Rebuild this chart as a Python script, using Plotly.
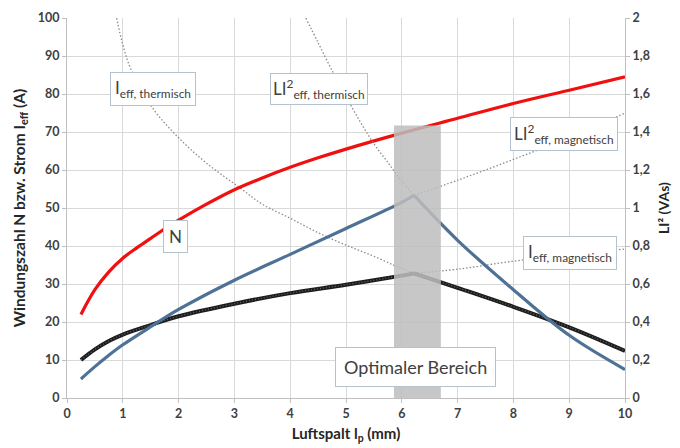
import plotly.graph_objects as go

# --- data ---
x_N = [0.25, 0.5, 0.75, 1.0, 1.25, 1.5, 1.75, 2.0, 2.5, 3.0, 3.5, 4.0, 4.5, 5.0, 6.0, 7.0, 8.0, 9.0, 10.0]
N_vals = [22.0, 28.5, 33.2, 36.8, 39.5, 42.0, 44.5, 46.8, 51.0, 54.8, 57.9, 60.7, 63.2, 65.5, 69.7, 73.6, 77.5, 81.0, 84.5]

x_rise = [0.25, 0.5, 0.75, 1.0, 1.5, 2.0, 3.0, 4.0, 5.0, 6.0, 6.22]
I_eff_rise = [10.0, 12.8, 15.0, 16.7, 19.2, 21.5, 24.8, 27.6, 29.8, 32.2, 32.8]
LI2_rise = [0.10, 0.165, 0.225, 0.28, 0.375, 0.466, 0.62, 0.756, 0.892, 1.03, 1.066]

x_fall = [6.22, 7.0, 8.0, 9.0, 10.0]
I_eff_fall = [32.8, 29.0, 24.0, 18.6, 12.4]
LI2_fall = [1.066, 0.83, 0.57, 0.33, 0.15]

x_I_th = [0.89, 1.0, 1.16, 1.55, 2.0, 2.5, 3.1, 3.5, 4.0, 4.5, 5.07, 5.5, 5.91, 6.22]
I_th = [100, 93, 86, 76, 68.5, 61.8, 55.3, 51.0, 47.3, 43.5, 39.8, 37.3, 34.6, 32.8]

x_I_mag = [6.22, 7.0, 8.0, 9.0, 10.0]
I_mag = [32.8, 33.9, 36.0, 37.7, 39.2]

x_LI_th = [4.28, 4.5, 4.77, 5.0, 5.25, 5.5, 5.75, 6.0, 6.22]
LI_th = [2.0, 1.87, 1.712, 1.586, 1.456, 1.338, 1.24, 1.14, 1.066]

x_LI_mag = [6.22, 7.0, 8.0, 9.0, 10.0]
LI_mag = [1.066, 1.146, 1.256, 1.37, 1.5]

x_ticks = list(range(0, 11))
y_ticks = list(range(0, 101, 10))
y2_ticks = [0, 0.2, 0.4, 0.6, 0.8, 1.0, 1.2, 1.4, 1.6, 1.8, 2.0]
y2_labels = ["0", "0,2", "0,4", "0,6", "0,8", "1", "1,2", "1,4", "1,6", "1,8", "2"]

opt_range = [5.86, 6.70]
opt_top = 71.7

FONT = "Lato"
TXT = "#404040"

fig = go.Figure()

dot_style = dict(color="#8a8a8a", width=1.3, dash="1.5px,2px")
fig.add_trace(go.Scatter(x=x_I_th, y=I_th, mode="lines", line=dot_style, line_shape="spline"))
fig.add_trace(go.Scatter(x=x_I_mag, y=I_mag, mode="lines", line=dot_style, line_shape="spline"))
fig.add_trace(go.Scatter(x=x_LI_th, y=LI_th, mode="lines", line=dot_style, line_shape="spline", yaxis="y2"))
fig.add_trace(go.Scatter(x=x_LI_mag, y=LI_mag, mode="lines", line=dot_style, line_shape="spline", yaxis="y2"))

blue = dict(color="#4e7196", width=3.2)
fig.add_trace(go.Scatter(x=x_rise, y=LI2_rise, mode="lines", yaxis="y2", line=blue, line_shape="spline"))
fig.add_trace(go.Scatter(x=x_fall, y=LI2_fall, mode="lines", yaxis="y2", line=blue, line_shape="spline"))

for xs, ys in ((x_rise, I_eff_rise), (x_fall, I_eff_fall)):
    fig.add_trace(go.Scatter(x=xs, y=ys, mode="lines", line_shape="spline",
                             line=dict(color="#1c1c1c", width=4)))
    fig.add_trace(go.Scatter(x=xs, y=ys, mode="lines", line_shape="spline", opacity=0.6,
                             line=dict(color="#a0a0a0", width=1.2, dash="1px,2px")))

fig.add_trace(go.Scatter(x=x_N, y=N_vals, mode="lines", line_shape="spline",
                         line=dict(color="#f01010", width=3.2)))

fig.add_shape(type="rect", xref="x", yref="y", x0=opt_range[0], x1=opt_range[1], y0=0, y1=opt_top,
              fillcolor="#bdbdbd", opacity=0.85, line_width=0, layer="above")

box = dict(bordercolor="#b5c3d1", borderwidth=1, bgcolor="white", showarrow=False,
           font=dict(family=FONT, size=17, color=TXT))
fig.add_annotation(x=1.54, y=81.2, text="I<sub>eff, thermisch</sub>", borderpad=4, **box)
fig.add_annotation(x=4.52, y=81.2, text="LI<sup>2</sup><sub>eff, thermisch</sub>", borderpad=2, **box)
fig.add_annotation(x=8.91, y=69.4, text="LI<sup>2</sup><sub>eff, magnetisch</sub>", borderpad=3, **box)
fig.add_annotation(x=9.02, y=38.2, text="I<sub>eff, magnetisch</sub>", borderpad=4, **box)
fig.add_annotation(x=1.94, y=42.4, text="N", borderpad=5, **box)
fig.add_annotation(x=6.25, y=8.1, text="Optimaler Bereich", borderpad=8,
                   **{**box, "font": dict(family=FONT, size=18, color=TXT)})

tickfont = dict(family=FONT, size=12.5, color=TXT, weight="bold")
titlefont = dict(family=FONT, size=15, color="#262626", weight="bold")

fig.update_layout(
    width=680, height=448,
    margin=dict(l=67, r=55, t=18, b=50),
    paper_bgcolor="white", plot_bgcolor="white",
    showlegend=False,
    xaxis=dict(range=[0, 10], tickvals=x_ticks, showgrid=True, gridcolor="#d9d9d9",
               showline=True, linecolor="#bfbfbf", ticks="outside", ticklen=4, tickcolor="#bfbfbf",
               tickfont=tickfont, zeroline=False, automargin=False,
               title=dict(text="Luftspalt l<sub>p</sub> (mm)", font=titlefont, standoff=8)),
    yaxis=dict(range=[0, 100], tickvals=y_ticks, showgrid=True, gridcolor="#d9d9d9",
               showline=True, linecolor="#bfbfbf", ticks="outside", ticklen=4, tickcolor="#bfbfbf",
               tickfont=tickfont, zeroline=False, automargin=False,
               title=dict(text="Windungszahl N bzw. Strom I<sub>eff</sub> (A)",
                          font=dict(family=FONT, size=15.5, color="#262626", weight="bold"), standoff=8)),
    yaxis2=dict(range=[0, 2], tickvals=y2_ticks, ticktext=y2_labels, overlaying="y", side="right",
                showgrid=False, showline=True, linecolor="#bfbfbf", ticks="outside", ticklen=4,
                tickcolor="#bfbfbf", tickfont=tickfont, zeroline=False, automargin=False,
                title=dict(text="LI² (VAs)", font=dict(family=FONT, size=14, color="#262626", weight="bold"),
                           standoff=10)),
)

fig.write_html("out.html")
